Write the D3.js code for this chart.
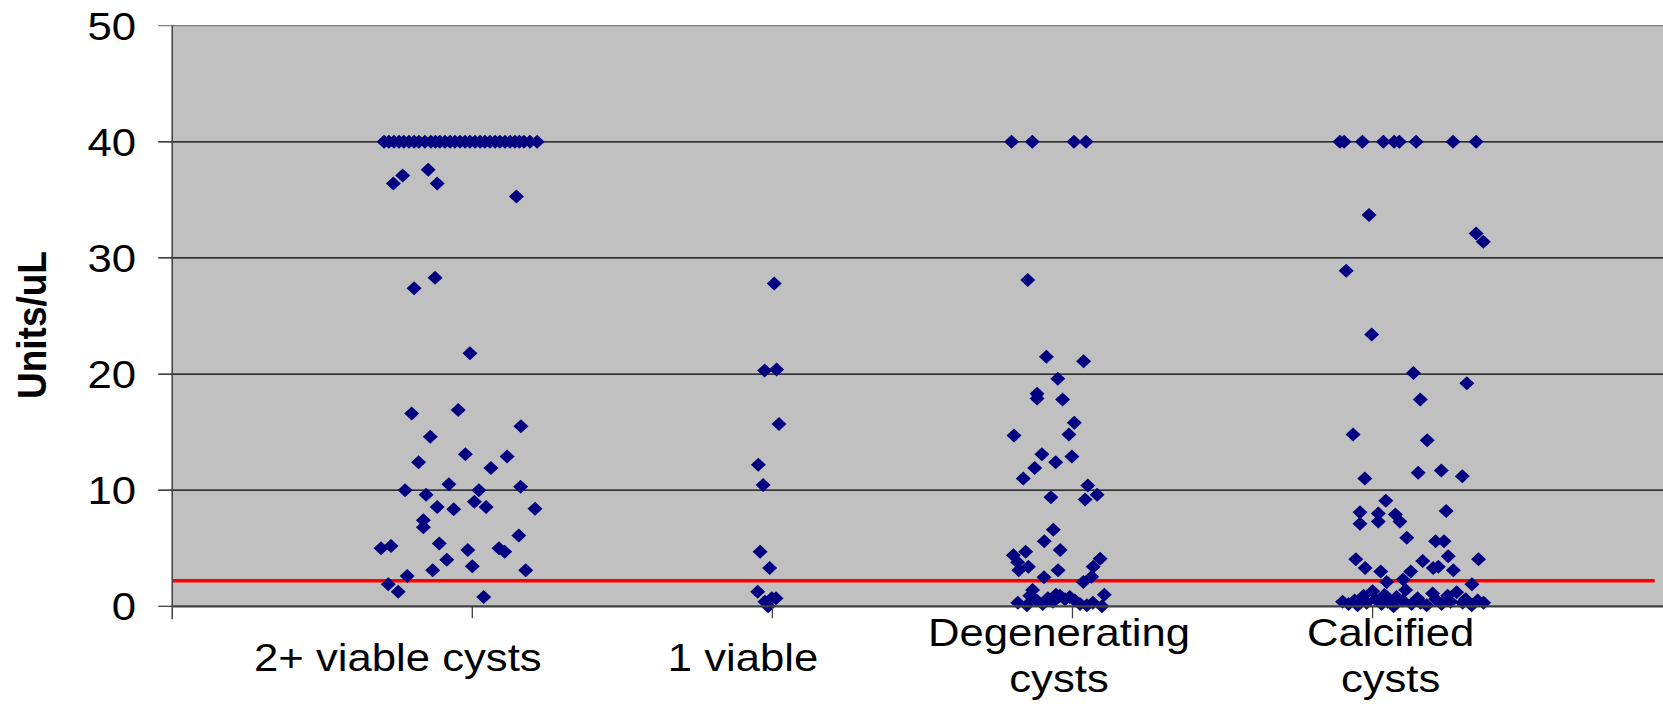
<!DOCTYPE html>
<html>
<head>
<meta charset="utf-8">
<script src="https://cdn.jsdelivr.net/npm/d3@7"></script>
<style>
  body { margin: 0; background: #fff; overflow: hidden; }
  svg { display: block; font-family: "Liberation Sans", Arial, sans-serif; }
</style>
</head>
<body>
<svg></svg>
<script>
// category names (x axis text)
const categories = [["2+ viable cysts"], ["1 viable"], ["Degenerating", "cysts"], ["Calcified", "cysts"]];
const yTicks = [0, 10, 20, 30, 40, 50];
const cutoff = 2.2;

// each point: [x (jittered around category index), Units/uL]
const viable2 = [
  [0.706, 40], [0.722, 40], [0.739, 40], [0.756, 40], [0.772, 40], [0.789, 40], [0.806, 40], [0.822, 40],
  [0.842, 40], [0.862, 40], [0.877, 40], [0.892, 40], [0.909, 40], [0.926, 40], [0.942, 40], [0.959, 40],
  [0.976, 40], [0.992, 40], [1.009, 40], [1.026, 40], [1.042, 40], [1.059, 40], [1.076, 40], [1.092, 40],
  [1.109, 40], [1.126, 40], [1.142, 40], [1.157, 40], [1.172, 40], [1.192, 40], [1.216, 40],
  [0.737, 36.4], [0.768, 37.1], [0.853, 37.6], [0.883, 36.4], [1.147, 35.3], [0.806, 27.4], [0.876, 28.3],
  [0.992, 21.8], [0.798, 16.6], [0.953, 16.9], [1.162, 15.5], [0.860, 14.6], [0.977, 13.1], [1.116, 12.9],
  [0.821, 12.4], [1.062, 11.9], [0.776, 10.0], [0.922, 10.5], [1.161, 10.3], [1.022, 10.0], [0.846, 9.6],
  [1.007, 9.0], [0.883, 8.55], [0.938, 8.35], [1.046, 8.55], [1.209, 8.4], [0.837, 7.4], [0.837, 6.8],
  [1.155, 6.1], [0.696, 5.0], [0.729, 5.2], [0.890, 5.4], [1.089, 5.0], [1.108, 4.7], [0.985, 4.85],
  [0.915, 4.0], [0.868, 3.1], [1.000, 3.45], [1.178, 3.1], [0.783, 2.6], [0.720, 1.9], [0.753, 1.25],
  [1.038, 0.8]
];
const viable1 = [
  [2.006, 27.8], [1.974, 20.3], [2.014, 20.4], [2.022, 15.7], [1.953, 12.2], [1.969, 10.45], [1.959, 4.7],
  [1.991, 3.3], [1.951, 1.26], [1.998, 0.7], [2.012, 0.7], [1.986, 0.0], [1.975, 0.4]
];
const degenerating = [
  [2.797, 40], [2.866, 40], [3.005, 40], [3.045, 40], [2.851, 28.1],
  [2.913, 21.5], [3.037, 21.1], [2.951, 19.6], [2.882, 18.3], [2.882, 17.9], [2.967, 17.8], [3.006, 15.8],
  [2.988, 14.8], [2.805, 14.7], [2.898, 13.1], [2.998, 12.9], [2.944, 12.4], [2.874, 11.9], [2.836, 11.0],
  [3.051, 10.4], [3.082, 9.6], [3.042, 9.2], [2.928, 9.4], [2.936, 6.6], [2.906, 5.6], [2.959, 4.85],
  [2.803, 4.4], [2.844, 4.7], [2.817, 3.8], [2.853, 3.4], [2.821, 3.1], [2.952, 3.1], [3.092, 4.1],
  [3.069, 3.4], [2.905, 2.5], [3.036, 2.1], [3.064, 2.55], [2.867, 1.4], [3.106, 1.0],
  [2.818, 0.3], [2.848, 0.1], [2.881, 0.5], [2.901, 0.2], [2.918, 0.7], [2.935, 0.4], [2.958, 0.9],
  [2.975, 0.6], [2.991, 0.8], [3.008, 0.5], [3.025, 0.2], [3.048, 0.1], [3.068, 0.3], [3.098, 0.0],
  [2.858, 0.9], [2.945, 1.0]
];
const calcified = [
  [3.891, 40], [3.905, 40], [3.966, 40], [4.036, 40], [4.072, 40], [4.089, 40], [4.145, 40], [4.268, 40], [4.345, 40],
  [3.988, 33.7], [4.345, 32.1], [4.369, 31.4], [3.912, 28.9], [3.997, 23.4], [4.136, 20.1], [4.314, 19.2],
  [4.159, 17.8], [3.935, 14.8], [4.182, 14.3], [4.152, 11.5], [4.229, 11.7], [4.299, 11.2], [3.974, 11.0],
  [4.044, 9.1], [3.958, 8.1], [4.019, 8.0], [4.076, 7.9], [3.958, 7.1], [4.019, 7.3], [4.091, 7.3],
  [4.245, 8.2], [4.114, 5.9], [4.210, 5.6], [4.238, 5.6], [4.252, 4.3], [4.353, 4.05], [3.944, 4.05],
  [3.975, 3.3], [4.167, 3.9], [4.027, 3.0], [4.127, 3.0], [4.202, 3.3], [4.219, 3.4], [4.269, 3.1],
  [4.331, 1.9], [4.102, 2.3], [4.047, 2.1],
  [3.90, 0.4], [3.92, 0.2], [3.94, 0.5], [3.95, 0.1], [3.97, 0.9], [3.98, 0.3], [4.00, 1.3], [4.01, 0.6],
  [4.03, 0.2], [4.04, 1.0], [4.05, 0.4], [4.07, 0.0], [4.08, 0.8], [4.10, 0.5], [4.11, 1.4], [4.13, 0.2],
  [4.15, 0.7], [4.16, 0.3], [4.18, 0.1], [4.20, 1.1], [4.21, 0.6], [4.23, 0.2], [4.25, 0.9], [4.26, 0.4],
  [4.28, 1.2], [4.30, 0.3], [4.31, 0.6], [4.33, 0.1], [4.35, 0.5], [4.37, 0.3]
];

// where the category texts sit along the x axis (in axis units)
const labelAt = [0.752, 1.902, 2.955, 4.06];

const width = 1663, height = 709;
const margin = { top: 25.7, left: 172.2 };
const plotBottom = 606.3;
const stretch = 1.12; // the original picture is a bit wider than tall

const svg = d3.select("svg").attr("width", width).attr("height", height);

const x = d3.scaleLinear().domain([0, 5]).range([margin.left, margin.left + 5 * 300.1]);
const y = d3.scaleLinear().domain([0, 50]).range([plotBottom, margin.top]);

// plot background
svg.append("rect")
  .attr("x", x(0)).attr("y", y(50))
  .attr("width", width - x(0)).attr("height", y(0) - y(50))
  .attr("fill", "#c0c0c0");

// gridlines + y ticks
svg.append("g").selectAll("line")
  .data(yTicks.filter(d => d > 0))
  .enter().append("line")
  .attr("x1", x(0) - 14).attr("x2", width)
  .attr("y1", d => y(d)).attr("y2", d => y(d))
  .attr("stroke", d => d === 50 ? "#808080" : "#000")
  .attr("stroke-width", 1.3);

svg.append("line")
  .attr("x1", x(0) - 14).attr("x2", x(0))
  .attr("y1", y(0)).attr("y2", y(0))
  .attr("stroke", "#404040").attr("stroke-width", 1.3);

// y tick labels
svg.append("g").selectAll("text")
  .data(yTicks)
  .enter().append("text")
  .attr("transform", d => `translate(136,${y(d)}) scale(${stretch},1)`)
  .attr("dy", "0.36em")
  .attr("text-anchor", "end")
  .attr("font-size", "39px")
  .attr("fill", "#000")
  .text(d => d);

// y axis title
svg.append("text")
  .attr("transform", `translate(46,325) scale(${stretch},1) rotate(-90)`)
  .attr("text-anchor", "middle")
  .attr("font-size", "37px")
  .attr("font-weight", "bold")
  .text("Units/uL");

// cut-off line
svg.append("line")
  .attr("x1", x(0)).attr("x2", x(4.94))
  .attr("y1", y(cutoff)).attr("y2", y(cutoff))
  .attr("stroke", "#ff0000").attr("stroke-width", 3.5);

// points
const diamond = "M0,-7L7.5,0L0,7L-7.5,0Z";
const allPoints = [].concat(viable2, viable1, degenerating, calcified);
svg.append("g").selectAll("path")
  .data(allPoints)
  .enter().append("path")
  .attr("d", diamond)
  .attr("transform", d => `translate(${x(d[0])},${y(d[1])})`)
  .attr("fill", "#000080");

// axes lines
svg.append("line")
  .attr("x1", x(0)).attr("x2", x(0))
  .attr("y1", y(50)).attr("y2", y(0) + 13)
  .attr("stroke", "#404040").attr("stroke-width", 1.5);

svg.append("line")
  .attr("x1", x(0)).attr("x2", width)
  .attr("y1", y(0)).attr("y2", y(0))
  .attr("stroke", "#404040").attr("stroke-width", 2.2);

svg.append("g").selectAll("line")
  .data(d3.range(1, 5))
  .enter().append("line")
  .attr("x1", d => x(d)).attr("x2", d => x(d))
  .attr("y1", y(0)).attr("y2", y(0) + 12)
  .attr("stroke", "#404040").attr("stroke-width", 1.3);

// category labels
const cat = svg.append("g").selectAll("g")
  .data(categories)
  .enter().append("g")
  .attr("transform", (d, i) => `translate(${x(labelAt[i])},0) scale(${stretch},1)`);

cat.selectAll("text")
  .data(d => d.map((t, j) => ({ t, j, n: d.length })))
  .enter().append("text")
  .attr("y", d => d.n === 1 ? 671 : 646 + d.j * 46)
  .attr("text-anchor", "middle")
  .attr("font-size", "39px")
  .attr("fill", "#000")
  .text(d => d.t);
</script>
</body>
</html>
